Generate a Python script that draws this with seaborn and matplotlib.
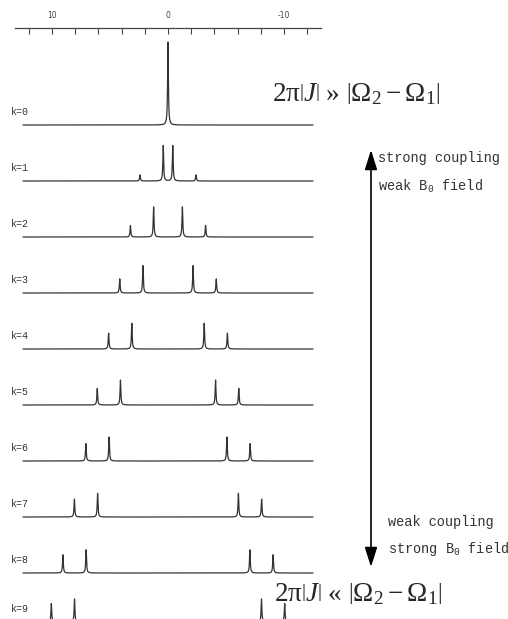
'''
AB spin system spectra: strong coupling (k=0) to weak coupling (k=9)
'''

import numpy as np
import matplotlib
matplotlib.use("Agg")
import matplotlib.pyplot as plt
import seaborn as sns

# peak positions and relative intensities per row
rows = ["k=0", "k=1", "k=2", "k=3", "k=4", "k=5", "k=6", "k=7", "k=8", "k=9"]
peak_pos = [
    [0.0],
    [2.41, 0.41, -0.41, -2.41],
    [3.24, 1.24, -1.24, -3.24],
    [4.16, 2.16, -2.16, -4.16],
    [5.12, 3.12, -3.12, -5.12],
    [6.10, 4.10, -4.10, -6.10],
    [7.08, 5.08, -5.08, -7.08],
    [8.07, 6.07, -6.07, -8.07],
    [9.06, 7.06, -7.06, -9.06],
    [10.06, 8.06, -8.06, -10.06],
]
peak_int = [
    [4.0],
    [0.29, 1.71, 1.71, 0.29],
    [0.55, 1.45, 1.45, 0.55],
    [0.68, 1.32, 1.32, 0.68],
    [0.76, 1.24, 1.24, 0.76],
    [0.80, 1.20, 1.20, 0.80],
    [0.84, 1.16, 1.16, 0.84],
    [0.86, 1.14, 1.14, 0.86],
    [0.88, 1.12, 1.12, 0.88],
    [0.89, 1.11, 1.11, 0.89],
]
major_ticks = [10, 0, -10]
minor_ticks = [12, 10, 8, 6, 4, 2, 0, -2, -4, -6, -8, -10, -12]

sns.set_style("white")
plt.rcParams["axes.unicode_minus"] = False
plt.rcParams["mathtext.fontset"] = "custom"
plt.rcParams["mathtext.rm"] = "Liberation Serif"
plt.rcParams["mathtext.it"] = "Liberation Serif:italic"
plt.rcParams["mathtext.tt"] = "Liberation Mono"

W, H = 508, 619
fig = plt.figure(figsize=(W / 100, H / 100), dpi=100)

# spectra axes, y in (negative) pixel units so rows line up with the overlay
ax = fig.add_axes([14.9 / W, 0, (321.1 - 14.9) / W, (H - 28) / H])
row_px = [125 + 56 * k for k in range(9)] + [622]
scale = 20.75   # pixels per unit intensity
hw = 0.04       # lorentzian half width

x = np.linspace(12.5, -12.5, 25001)
for k in range(len(rows)):
    shape = np.zeros_like(x)
    for p, h in zip(peak_pos[k], peak_int[k]):
        shape += h * hw**2 / ((x - p) ** 2 + hw**2)
    y = shape * scale - row_px[k]
    sns.lineplot(x=x, y=y, ax=ax, color="#333333", linewidth=0.9,
                 estimator=None, sort=False)

ax.set_xlim(13.2, -13.2)
ax.set_ylim(-H, -28)
ax.xaxis.tick_top()
ax.set_xticks(major_ticks)
ax.set_xticks(minor_ticks, minor=True)
ax.tick_params(axis="x", which="both", direction="in", length=4, width=0.8,
               top=True, bottom=False, color="#444444")
ax.tick_params(axis="x", which="major", labelsize=5.5, pad=5.5,
               labelcolor="#444444")
ax.set_yticks([])
for s in ["left", "right", "bottom"]:
    ax.spines[s].set_visible(False)
ax.spines["top"].set_linewidth(0.9)
ax.spines["top"].set_color("#444444")
ax.set_xlabel("")
ax.set_ylabel("")
ax.patch.set_alpha(0)

# overlay in pixel coordinates for labels and annotations
ov = fig.add_axes([0, 0, 1, 1])
ov.set_xlim(0, W)
ov.set_ylim(H, 0)
ov.axis("off")
ov.patch.set_alpha(0)

for k, lab in enumerate(rows):
    ov.text(11, row_px[k] - 13, lab, family="Liberation Mono", fontsize=7.2,
            va="center", ha="left", color="#333333")

ov.annotate("", xy=(371, 150), xytext=(371, 567),
            arrowprops=dict(arrowstyle="<|-|>,head_length=1.2,head_width=0.38",
                            color="black", lw=1.2, shrinkA=0, shrinkB=0,
                            mutation_scale=10))

mono = dict(family="Liberation Mono", fontsize=9.8, va="center", ha="left",
            color="#333333")
ov.text(378, 158, "strong coupling", **mono)
ov.text(378, 186, r"weak B$_\mathtt{0}$ field", **mono)
ov.text(388, 522, "weak coupling", **mono)
ov.text(388, 549, r"strong B$_\mathtt{0}$ field", **mono)

ov.text(272, 101, r"$2\mathrm{\pi}\left|J\right|$ » $\left|\Omega_2 - \Omega_1\right|$",
        family="Liberation Serif", fontsize=19.5, va="baseline", ha="left")
ov.text(274, 601, r"$2\mathrm{\pi}\left|J\right|$ « $\left|\Omega_2 - \Omega_1\right|$",
        family="Liberation Serif", fontsize=19.5, va="baseline", ha="left")

fig.savefig("out.png", dpi=100)
